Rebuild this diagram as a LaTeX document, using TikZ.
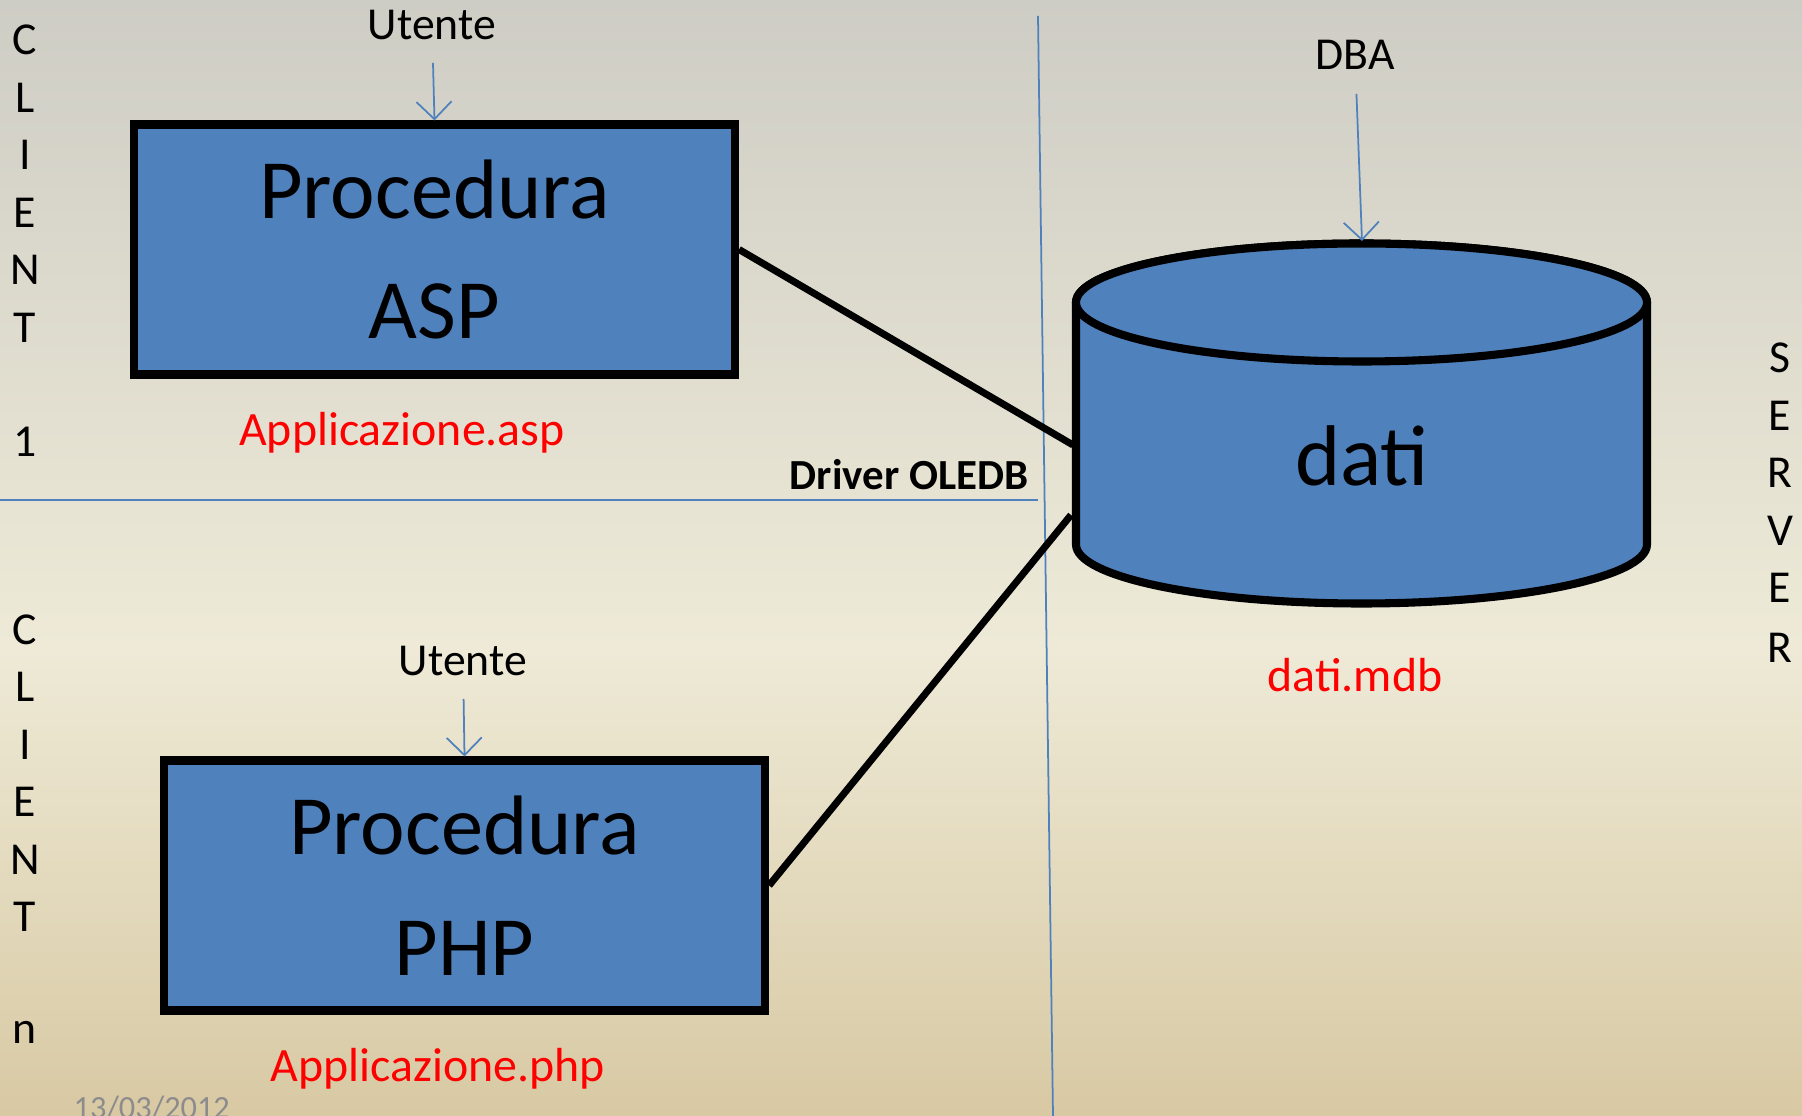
\documentclass[tikz,border=0pt]{standalone}
\usepackage{fontspec}
\setmainfont{Carlito}
\usetikzlibrary{arrows.meta}
\definecolor{boxblue}{HTML}{4F81BD}
\definecolor{lineblue}{HTML}{4F81BD}
\definecolor{bgtop}{HTML}{CECDC5}
\definecolor{bgmid}{HTML}{EEEAD7}
\definecolor{bgbot}{HTML}{D8C9A3}
\definecolor{redtext}{HTML}{FF0000}
\definecolor{datecol}{HTML}{8C8C8C}
\pgfdeclareverticalshading{bgshade}{100bp}{color(0bp)=(bgbot); color(25bp)=(bgbot); color(46bp)=(bgmid); color(75bp)=(bgtop); color(100bp)=(bgtop)}
\tikzset{
  procbox/.style={draw=black, line width=2.3pt, fill=boxblue, minimum width=601*0.01cm, minimum height=250*0.01cm, align=center, inner sep=0pt, font=\fontsize{24}{34.4}\selectfont},
  usertxt/.style={font=\fontsize{13}{15}\selectfont, inner sep=0pt},
  letter/.style={font=\fontsize{13}{15}\selectfont, inner sep=0pt},
  redlabel/.style={font=\fontsize{13.6}{16}\selectfont, text=redtext, inner sep=0pt},
  bluearrow/.style={draw=lineblue, line width=0.5pt, -{Straight Barb[length=5pt, width=10pt]}},
  blueline/.style={draw=lineblue, line width=0.5pt},
  link/.style={draw=black, line width=2pt},
  cyl/.style={draw=black, line width=2.3pt, fill=boxblue, line join=round}
}
\begin{document}
\begin{tikzpicture}[x=0.01cm, y=-0.01cm]
\useasboundingbox (0,0) rectangle (1802,1116);
\shade[shading=bgshade] (0,0) rectangle (1802,1116);

% separators
\coordinate (vtop) at (1038,16);
\coordinate (vbot) at (1053,1116);
\coordinate (hl) at (0,500);
\coordinate (hr) at (1038,500);
\draw[blueline] (vtop) -- (vbot);
\draw[blueline] (hl) -- (hr);

% boxes
\node[procbox] (asp) at (434.5,249.5) {Procedura\\ASP};
\node[procbox] (php) at (464.5,885.5) {Procedura\\PHP};

% cylinder
\filldraw[cyl] (1076,302.5) -- (1076,544.5)
  arc[start angle=180, end angle=0, x radius=285.5, y radius=59]
  -- (1647,302.5)
  arc[start angle=0, end angle=-180, x radius=285.5, y radius=59] -- cycle;
\draw[cyl] (1361.5,302.5) ellipse [x radius=285.5, y radius=59];
\node[font=\fontsize{24.5}{30}\selectfont, inner sep=0pt] (db) at (1362,456) {dati};
\coordinate (dbtop) at (1362,241);
\coordinate (dbA) at (1073,445);
\coordinate (dbB) at (1071,515);

% connectors
\draw[link] (asp.east) -- (dbA);
\draw[link] (php.east) -- (dbB);

% users
\node[usertxt] (u1) at (432,25) {Utente};
\node[usertxt] (u2) at (463,661) {Utente};
\node[usertxt] (dba) at (1355,55) {DBA};
\draw[bluearrow, shorten <=38*0.01cm] (u1.center) -- (asp.north);
\draw[bluearrow, shorten <=38*0.01cm] (u2.center) -- (php.north);
\draw[bluearrow, shorten <=39*0.01cm] (dba.center) -- (dbtop);

% labels
\node[redlabel] (la) at (402,433) {Applicazione.asp};
\node[redlabel] (lp) at (438,1069) {Applicazione.php};
\node[redlabel] (ld) at (1355,675) {dati.mdb};
\node[font=\bfseries\fontsize{12.2}{15}\selectfont, inner sep=0pt, anchor=east] (drv) at (1029,475) {Driver OLEDB};
\node[font=\fontsize{9.2}{11}\selectfont, text=datecol, inner sep=0pt, anchor=base west] (date) at (73,1119) {13/03/2012};

% side letters
\foreach \t/\y [count=\i] in {C/40, L/98, I/155, E/213, N/270, T/328, 1/442}
  \node[letter] (ca\i) at (25,\y) {\t};
\foreach \t/\y [count=\i] in {C/630, L/687, I/745, E/802, N/860, T/917, n/1032}
  \node[letter] (cb\i) at (25,\y) {\t};
\foreach \t/\y [count=\i] in {S/358, E/416, R/473, V/531, E/588, R/648}
  \node[letter] (sv\i) at (1780,\y) {\t};
\end{tikzpicture}
\end{document}
